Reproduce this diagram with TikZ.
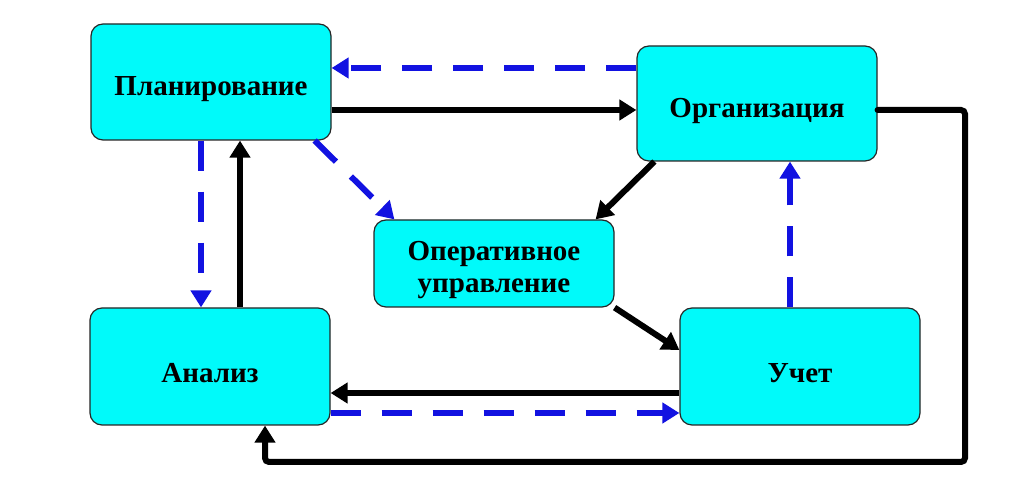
\documentclass[tikz,border=0pt]{standalone}
\usepackage{fontspec}
\setmainfont{Liberation Serif}
\usetikzlibrary{arrows.meta}
\definecolor{boxcyan}{RGB}{0,250,250}
\definecolor{arrblue}{RGB}{18,18,225}

\begin{document}
\begin{tikzpicture}[x=0.5pt, y=0.5pt, >={Triangle[length=8.5pt,width=10pt]},
        box/.style={draw=black!85, line width=0.6pt, fill=boxcyan, rounded corners=6pt,
            minimum width=120pt},
        boxtext/.style={align=center, yshift=-3.5pt, font=\fontsize{14.5}{16}\selectfont\bfseries},
        blk/.style={->, line width=3pt, black},
        blu/.style={->, line width=3pt, arrblue, dash pattern=on 15pt off 10.5pt}]
        \useasboundingbox (0,0) rectangle (1024,487);
        \node[box, minimum height=58pt, label={[boxtext]center:Планирование}] (plan) at (211,405) {};
        \node[box, minimum height=57.5pt, label={[boxtext]center:Организация}] (org) at (757,383.5) {};
        \node[box, minimum height=43.5pt, label={[boxtext]center:Оперативное\\управление}] (oper) at (494,223.5) {};
        \node[box, minimum height=58.5pt, label={[boxtext]center:Анализ}] (anal) at (210,120.5) {};
        \node[box, minimum height=58.5pt, label={[boxtext]center:Учет}] (uchet) at (800,120.5) {};
        \coordinate (rc) at (965,25);
        \draw[blk] ([yshift=-14pt]plan.east) -- ([yshift=-14pt]plan.east -| org.west);
        \draw[blu] ([yshift=17.75pt]org.west) -- ([yshift=17.75pt]org.west -| plan.east);
        \draw[blk] ([xshift=9pt]org.south west) -- ([xshift=-9.5pt]oper.north east);
        \draw[blu] ([xshift=-8.5pt]plan.south east) -- ([xshift=10.5pt]oper.north west);
        \draw[blk] (oper.south east) -- ([yshift=8.25pt]uchet.west);
        \draw[blu] ([xshift=-5pt]uchet.north) -- ([xshift=-5pt]uchet.north |- org.south);
        \draw[blk] ([yshift=-13.25pt]uchet.west) -- ([yshift=-13.25pt]uchet.west -| anal.east);
        \draw[blu] ([yshift=-23.25pt]anal.east) -- ([yshift=-23.25pt]anal.east -| uchet.west);
        \draw[blk] ([xshift=15pt]anal.north) -- ([xshift=15pt]anal.north |- plan.south);
        \draw[blu] ([xshift=-5pt]plan.south) -- ([xshift=-5pt]plan.south |- anal.north);
        \draw[blk, line cap=round, rounded corners=2pt] ([yshift=-3.25pt]org.east) -| (rc) -| ([xshift=27.5pt]anal.south);
    \end{tikzpicture}
\end{document}
